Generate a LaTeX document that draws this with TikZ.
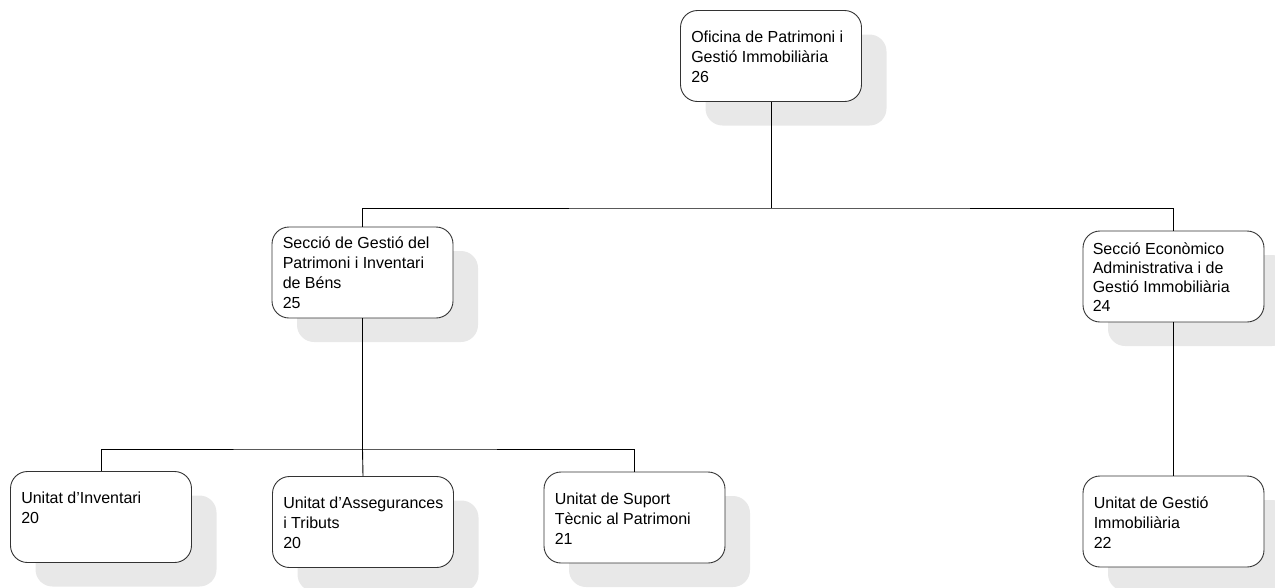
\documentclass[tikz,border=0pt]{standalone}
\usepackage{fontspec}
\setmainfont{Liberation Sans}
\usetikzlibrary{shadows}
\definecolor{shadowc}{RGB}{232,232,232}
\newcommand\tstrut{\rule{0pt}{16pt}}
\begin{document}
\begin{tikzpicture}[x=1pt,y=-1pt,
  box/.style={draw=black!80, line width=0.9pt, fill=white, rounded corners=17pt,
    minimum width=181pt, minimum height=91pt, inner sep=0pt,
    drop shadow={shadow xshift=25pt, shadow yshift=-24pt, fill=shadowc, opacity=1}},
  txt/.style={anchor=north west, align=left, inner sep=0pt, font=\fontsize{16}{20}\selectfont},
  conn/.style={draw=black, line width=0.9pt}]
\useasboundingbox (0,0) rectangle (1275,587);
\clip (0,0) rectangle (1275,587);

\node[box] (top) at (771,56) {};
\node[box] (sg) at (362.5,272.5) {};
\node[box] (se) at (1173.5,276.5) {};
\node[box] (ui) at (101,517) {};
\node[box] (ua) at (363,522) {};
\node[box] (us) at (634.5,517.5) {};
\node[box] (ug) at (1173.5,521.5) {};

\node[txt] (topt) at ([shift={(11pt,-16pt)}]top.north west) {\tstrut Oficina de Patrimoni i\\Gestió Immobiliària\\26};
\node[txt] (sgt) at ([shift={(11pt,-5.5pt)}]sg.north west) {\tstrut Secció de Gestió del\\Patrimoni i Inventari\\de Béns\\25};
\node[txt, font=\fontsize{16}{19}\selectfont] (set) at ([shift={(10pt,-7.5pt)}]se.north west) {\tstrut Secció Econòmico\\Administrativa i de\\Gestió Immobiliària\\24};
\node[txt] (uit) at ([shift={(11pt,-16.5pt)}]ui.north west) {\tstrut Unitat d’Inventari\\20};
\node[txt] (uat) at ([shift={(11pt,-16.5pt)}]ua.north west) {\tstrut Unitat d’Assegurances\\i Tributs\\20};
\node[txt] (ust) at ([shift={(11pt,-16.5pt)}]us.north west) {\tstrut Unitat de Suport\\Tècnic al Patrimoni\\21};
\node[txt] (ugt) at ([shift={(11pt,-16.5pt)}]ug.north west) {\tstrut Unitat de Gestió\\Immobiliària\\22};

\coordinate (j1) at (771,208);
\coordinate (j2) at (362.5,449);
\draw[conn] (top.south) -- (j1);
\draw[conn] (sg.north) |- (j1) -| (se.north);
\draw[conn] (sg.south) -- (j2);
\draw[conn] (ui.north) |- (j2) -| (us.north);
\draw[conn] (j2) -- (ua.north);
\draw[conn] (se.south) -- (ug.north);
\end{tikzpicture}
\end{document}
